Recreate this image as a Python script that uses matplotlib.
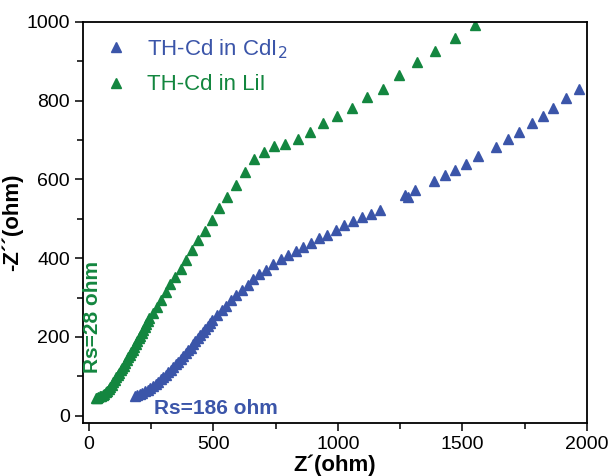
import matplotlib
matplotlib.use("Agg")
import matplotlib.pyplot as plt

plt.rcParams['font.family'] = ['Liberation Sans', 'DejaVu Sans']

# TH-Cd in LiI (green)
lii_x = [28, 33, 38, 44, 50, 56, 62, 68, 74, 80, 86, 92, 98, 104, 110, 116, 122, 128,
         134, 140, 146, 152, 158, 164, 170, 176, 182, 188, 194, 200, 206, 212, 218, 224,
         230, 236, 243, 256, 272, 290, 309, 327, 346, 369, 390, 413, 440, 467, 495, 523,
         555, 590, 627, 663, 703, 745, 789, 841, 889, 942, 997, 1057, 1117, 1180, 1247,
         1316, 1392, 1469, 1551]
lii_y = [45, 46, 47, 49, 51, 53, 56, 59, 63, 68, 73, 79, 85, 91, 97, 103, 109, 115,
         121, 127, 134, 141, 148, 155, 162, 168, 175, 182, 189, 196, 203, 210, 217, 224,
         232, 240, 247, 262, 277, 294, 314, 334, 353, 373, 396, 420, 446, 469, 497, 527,
         555, 587, 620, 653, 669, 684, 691, 702, 720, 742, 762, 782, 809, 830, 865,
         897, 926, 960, 993]

# TH-Cd in CdI2 (blue)
cdi_x = [186, 195, 205, 215, 225, 236, 247, 258, 268, 278, 288, 298, 308, 318, 328, 338,
         348, 358, 368, 378, 388, 398, 408, 418, 428, 438, 448, 458, 468, 478, 487, 496,
         514, 533, 551, 571, 592, 614, 637, 661, 685, 711, 739, 770, 800, 830, 860, 892,
         924, 957, 993, 1026, 1061, 1097, 1134, 1168, 1268, 1281, 1309, 1387, 1429, 1469,
         1516, 1561, 1637, 1683, 1728, 1780, 1824, 1866, 1918, 1970]
cdi_y = [50, 52, 55, 58, 62, 66, 71, 76, 81, 86, 92, 98, 104, 110, 116, 123,
         130, 137, 144, 151, 158, 166, 173, 181, 189, 196, 204, 212, 220, 228, 236, 244,
         255, 268, 279, 293, 306, 320, 333, 346, 359, 371, 384, 397, 407, 418, 429, 439,
         450, 460, 471, 483, 494, 504, 513, 523, 561, 555, 574, 597, 612, 625,
         638, 660, 682, 702, 720, 742, 762, 782, 808, 830]

labels = ['TH-Cd in CdI$_2$', 'TH-Cd in LiI']
blue = '#3b55a9'
green = '#13863f'

fig = plt.figure(figsize=(6.1, 4.76), dpi=100)
ax = fig.add_axes([0.136, 0.111, 0.826, 0.843])

ax.plot(cdi_x, cdi_y, linestyle='none', marker='^', ms=7, color=blue, mec=blue, label=labels[0])
ax.plot(lii_x, lii_y, linestyle='none', marker='^', ms=7, color=green, mec=green, label=labels[1])

ax.set_xlim(-24, 2000)
ax.set_ylim(-19, 1000)
ax.set_xticks([0, 500, 1000, 1500, 2000])
ax.set_yticks([0, 200, 400, 600, 800, 1000])
ax.set_xticks([250, 750, 1250, 1750], minor=True)
ax.set_yticks([100, 300, 500, 700, 900], minor=True)
ax.tick_params(which='major', direction='out', length=6, width=1.1, labelsize=14, top=False, right=False)
ax.tick_params(which='minor', direction='out', length=4, width=1.1, top=False, right=False)
for s in ax.spines.values():
    s.set_linewidth(1.3)

ax.set_xlabel('Z´(ohm)', fontsize=16, fontweight='bold', labelpad=1)
ax.set_ylabel('-Z´´(ohm)', fontsize=16, fontweight='bold', labelpad=2)

leg = ax.legend(loc='upper left', bbox_to_anchor=(0.0, 1.012), frameon=False, fontsize=16,
                handletextpad=0.8, handlelength=1.2, labelspacing=0.62, markerscale=1.0)
for t, c in zip(leg.get_texts(), [blue, green]):
    t.set_color(c)

ax.text(16, 251, 'Rs=28 ohm', rotation=90, color=green, fontsize=15, fontweight='bold',
        ha='center', va='center')
ax.text(511, 18, 'Rs=186 ohm', color=blue, fontsize=15, fontweight='bold',
        ha='center', va='center')

fig.savefig('out.png', dpi=100, facecolor='white')
